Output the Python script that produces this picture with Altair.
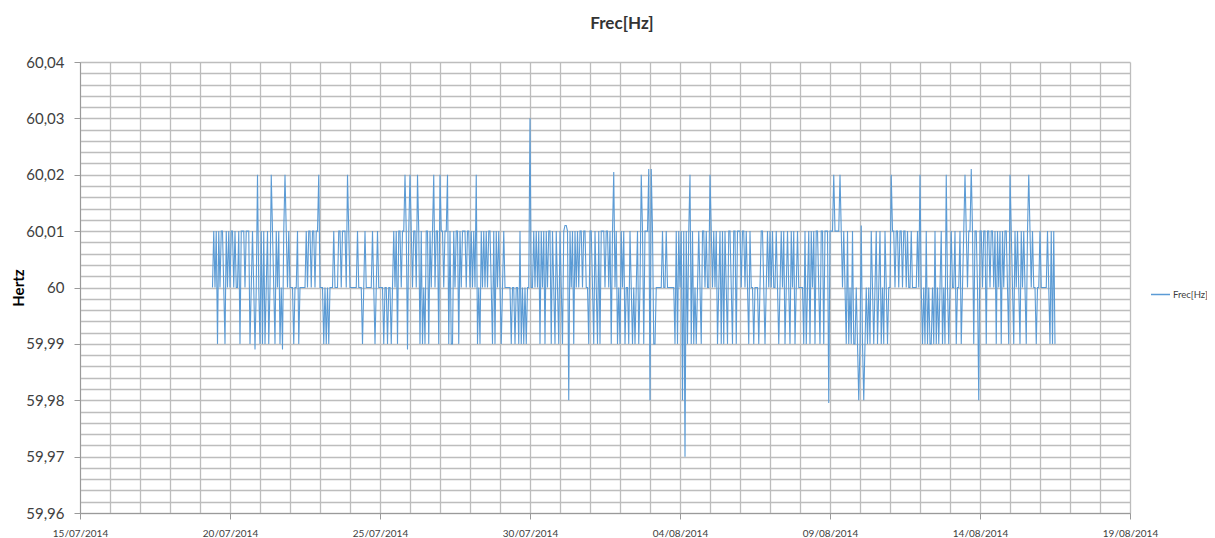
import altair as alt
import pandas as pd

# Frequency deviation from 60 Hz, in hundredths of Hz, hourly samples starting 19/07/2014 10:00
week1 = [0,1,0,1,-1,1,0,1,1,0,-1,1,0,1,0,1,1,0,1,0,0,1,-1,1,1,
         1,0,1,1,1,-1,0,1,0,-1.1,0,2,0,-1,1,-1,1,-1,0,1,-1,0,2,1,
         0,-1,1,0,1,-1,0,-1.1,1,2,1,0,1,0,0,0,-1,0,0,1,-1,0,0,0,
         0,0,1,0,1,1,0,1,1,0,1,1,2,0,0,0,-1,0,-1,0,-1,0,0,0,
         1,0,0,0,1,1,0,1,1,1,0,2,1,0,0,0,0,0,0,1,0,0,0,-1,
         0,1,0,0,0,0,0,1,0,-1,0,1,0,0,0,0,-1,0,0,-1,0,0,-1,0,
         1,0,1,-1,1,1,0,1,1,2,1,-1.1,1,2,1,0,1,1,0,2,1,-1,1,-1]
week2 = [0,-1,1,1,-1,1,0,1,2,0,1,1,-1,2,1,1,0,1,1,2,-1,1,-1,-1,
         1,0,1,1,-1,1,0,1,1,1,0,1,1,0,1,0,1,0,2,-1,0,-1,1,0,
         1,0,1,0,1,1,0,-1,1,-1,1,0,1,0,-1,0,1,0,0,0,0,0,-1,0,
         0,-1,0,0,-1,1,-1,0,-1,0,-1,0,0,3,0,0,1,0,1,0,1,-1,1,0,
         1,-1,1,0,1,1,-1,1,0,-1,1,0,-1,1,0,-1,1,1.1,1.1,1,-2,1,0,1,
         -1,1,0,1,0,1,1,0,1,1,0,0,-1,1,1,0,-1,1,0,-1,1,-1,1,1,
         1,0,1,1,0,1,-1,1,2.05,0,1,-1,0,-1,1,0,1,-1,0,0,-1,1,0,-1]
week3 = [0,-1,0,1,-1,0,2,1,-1,1,1,1,2.1,-2,2.1,1,-1,-1,0,0,0,0,0,1,
         0,0,1,0,0,0,0,0,0,-1,1,-1,1,0,1,-2,1,-3,1,-1,1,2,-1,1,
         -1,0,-1,0,1,0,-1,1,1,0,1,0,0,2,1,0,1,0,1,-1,0,1,-1,1,
         -1,1,0,-1,1,1,0,-1,1,1,-1,1,1,1,0,1,1,0,1,0,-1,1,0,0,
         -1,0,0,0,-1,0,1,1,0,-1,0,1,0,1,0,1,0,0,1,0,-1,0,1,0,
         1,-1,0,1,0,-1,1,0,1,-1,0,1,0,0,0,0,-1,1,-1,0,1,-1,1,0,
         1,-1,1,1,0,-1,1,1,-1,1,1,1,-2.05,1,1,1,2,1,1,1,1,2,1,0]
week4 = [1,0,-1,1,-1,0,-1,1,-1,-1,0,-1,-2,-1,1.1,-1,-2,-1,0,-1,0,-1,1,0,
         -1,0,1,-1,0,1,-1,0,-1,1,0,-1,0,0,2,1,1,0,1,1,0,1,1,0,
         1,1,0,1,0,0,1,0,0,0,0,1,0,2,0,-1,0,-1,1,-1,0,-1,-1,0,
         -1,1,-1,0,-1,0,1,-1,0,-1,2,0,-1,0,1,0,0,1,-1,0,0,1,-1,0,
         1,2,1,0,1,1,2.1,1,-1,1,1,0,-2,1,1,0,1,1,-1,1,1,0,1,1,
         0,1,-1,1,0,1,-1,1,0,1,1,0,-1,2,1,0,-1,1,0,1,0,-1,1,0,
         1,0,-1,1,2,1,0,1,0,0,-1,0,0,1,0,0,0,0,0,1,0,-1,1,-1,1,-1]

offsets = week1 + week2 + week3 + week4
freq_hz = [round(60 + o / 100, 5) for o in offsets]
times = pd.date_range("2014-07-19 10:00", periods=len(freq_hz), freq="h")

series_name = "Frec[Hz]"
y_ticks = [round(59.96 + k * 0.002, 3) for k in range(41)]

df = pd.DataFrame({"time": times, "freq": freq_hz, "series": series_name})

x_major = "round((datum.value - datetime(2014,6,15)) / 864e5) % 5 == 0"
y_major = "round(datum.value * 500) % 5 == 0"

FONT = "Lato"
TXT = "#404040"
GRID = "#bdbdbd"
AXIS = "#9a9a9a"

chart = alt.Chart(df).mark_line(strokeWidth=1.1, interpolate="linear").encode(
    x=alt.X("time:T",
            scale=alt.Scale(domain=[alt.DateTime(year=2014, month=7, date=15),
                                    alt.DateTime(year=2014, month=8, date=19)], nice=False),
            axis=alt.Axis(title="", tickCount={"interval": "day", "step": 1},
                          labelExpr=f"{x_major} ? timeFormat(datum.value, '%d/%m/%Y') : ''",
                          labelOverlap=False, labelFlush=False, labelBound=False,
                          labelFont=FONT, labelFontSize=10, labelColor=TXT, labelPadding=9,
                          tickOpacity={"condition": {"test": x_major, "value": 1}, "value": 0},
                          tickSize=6, tickColor=AXIS, domainColor=AXIS,
                          grid=True, gridColor=GRID, gridWidth=1.3)),
    y=alt.Y("freq:Q",
            scale=alt.Scale(domain=[59.96, 60.04], nice=False, zero=False),
            axis=alt.Axis(title="Hertz", values=y_ticks,
                          labelExpr=f"{y_major} ? replace(format(datum.value, '.2~f'), '.', ',') : ''",
                          labelOverlap=False, labelFont=FONT, labelFontSize=15, labelColor=TXT,
                          labelPadding=10,
                          tickOpacity={"condition": {"test": y_major, "value": 1}, "value": 0},
                          tickSize=6, tickColor=AXIS, domainColor=AXIS,
                          grid=True, gridColor=GRID, gridWidth=1.3,
                          titleFont=FONT, titleFontSize=15, titleFontWeight="bold",
                          titleColor="#000000", titleAngle=270, titleX=-62, titleY=225.5,
                          titleAlign="center", titleBaseline="middle")),
    color=alt.Color("series:N", scale=alt.Scale(range=["#5B9BD5"]),
                    legend=alt.Legend(title=None, orient="none", legendX=1070, legendY=222,
                                      symbolType="stroke", symbolSize=361, symbolStrokeWidth=1.5,
                                      labelFont=FONT, labelFontSize=9.5, labelColor=TXT,
                                      labelOffset=2, padding=0)),
).properties(
    width=1050, height=451,
    title=alt.TitleParams(series_name, font=FONT, fontSize=17, fontWeight="bold",
                          color="#333333", anchor="middle", frame="group", dx=17, offset=22),
    autosize=alt.AutoSizeParams(type="none"),
    padding={"left": 72, "top": 54, "right": 77, "bottom": 24},
).configure_view(strokeWidth=0)

chart.save("out.html", embed_options={"renderer": "svg", "actions": False})
